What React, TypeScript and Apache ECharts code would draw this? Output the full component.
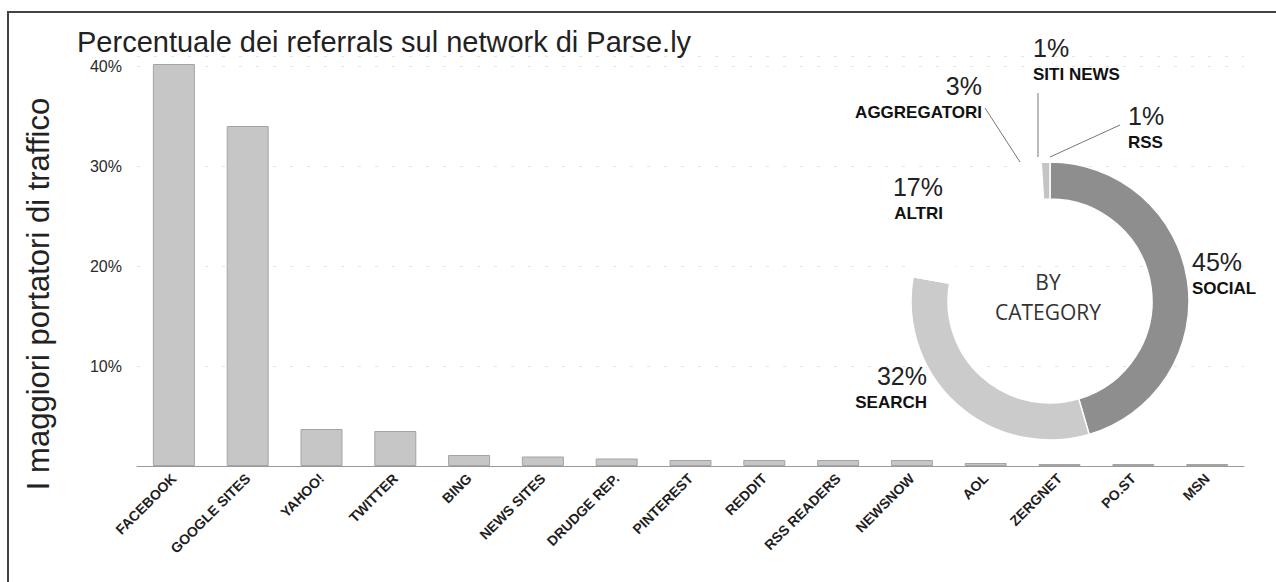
import React, { useEffect, useRef } from "react";
import * as echarts from "echarts";

const chartTitle = "Percentuale dei referrals sul network di Parse.ly";
const yAxisTitle = "I maggiori portatori di traffico";
const categories = [
  "FACEBOOK", "GOOGLE SITES", "YAHOO!", "TWITTER", "BING", "NEWS SITES", "DRUDGE REP.",
  "PINTEREST", "REDDIT", "RSS READERS", "NEWSNOW", "AOL", "ZERGNET", "PO.ST", "MSN",
];
const referralShare = [40.2, 34.0, 3.7, 3.5, 1.1, 0.95, 0.75, 0.6, 0.6, 0.6, 0.6, 0.3, 0.2, 0.2, 0.2];
const yTickValues = [10, 20, 30, 40];

const pieNames = ["SOCIAL", "SEARCH", "ALTRI", "AGGREGATORI", "SITI NEWS", "RSS"];
const pieValues = [45, 32, 17, 3, 1, 1];
const pieColors = ["#8e8e8e", "#cbcbcb", "#ffffff", "#ffffff", "#ffffff", "#c4c4c4"];
const pieCenterText = "BY\nCATEGORY";

// label placement per slice
const pieLabelPlacement: Record<string, any> = {
  SOCIAL: { x: 1192, y: 247, align: "left" },
  SEARCH: { x: 927, y: 361, align: "right" },
  ALTRI: { x: 943, y: 172, align: "right" },
  AGGREGATORI: { x: 982, y: 71, align: "right", line: [[1020, 162], [985, 108]] },
  "SITI NEWS": { x: 1033, y: 33, align: "left", line: [[1038, 157], [1038, 93]] },
  RSS: { x: 1128, y: 101, align: "left", line: [[1050, 157], [1120, 125]] },
};

const SANS = "'Liberation Sans', Arial, Helvetica, sans-serif";

export default function App() {
  const ref = useRef<HTMLDivElement>(null);
  useEffect(() => {
    document.body.style.margin = "0";
    const chart = echarts.init(ref.current!, null, { renderer: "svg" });
    const option: any = {
      animation: false,
      backgroundColor: "#ffffff",
      title: {
        text: chartTitle,
        left: 72,
        top: 22,
        textStyle: { fontFamily: SANS, fontSize: 29, fontWeight: "normal", color: "#222" },
      },
      grid: { left: 137, right: 32, top: 56, bottom: 116 },
      xAxis: {
        type: "category",
        data: categories,
        axisTick: { show: false },
        axisLine: { lineStyle: { color: "#9a9a9a", width: 1 } },
        axisLabel: {
          rotate: 45,
          interval: 0,
          margin: 10,
          fontFamily: SANS,
          fontWeight: "bold",
          fontSize: 14,
          color: "#1e1e1e",
        },
      },
      yAxis: {
        type: "value",
        min: 0,
        max: 41,
        interval: 10,
        axisLine: { show: false },
        axisTick: { show: false },
        splitLine: { show: true, lineStyle: { color: "#e4e4e4", type: [3, 14] } },
        axisLabel: {
          margin: 15,
          fontFamily: SANS,
          fontSize: 16,
          color: "#2a2a2a",
          formatter: (v: number) => (yTickValues.includes(v) ? v + "%" : ""),
        },
      },
      graphic: [
        {
          type: "polyline",
          shape: { points: [[8, 582], [8, 12], [1276, 12]] },
          style: { stroke: "#444", lineWidth: 2, fill: "none" },
          silent: true,
        },
        {
          type: "text",
          x: 38,
          y: 294,
          rotation: Math.PI / 2,
          style: {
            text: yAxisTitle,
            fontFamily: SANS,
            fontSize: 31,
            fill: "#222",
            align: "center",
            verticalAlign: "middle",
          },
        },
        {
          type: "text",
          x: 1048,
          y: 297,
          style: {
            text: pieCenterText,
            fontFamily: "'Open Sans', 'DejaVu Sans', sans-serif",
            fontSize: 21,
            lineHeight: 30,
            fill: "#333",
            align: "center",
            verticalAlign: "middle",
          },
        },
      ],
      series: [
        {
          type: "bar",
          data: referralShare,
          barWidth: 42,
          itemStyle: { color: "#c6c6c6", borderColor: "#a4a4a4", borderWidth: 1 },
        },
        {
          type: "pie",
          center: [1050, 301],
          radius: [102, 139],
          startAngle: 90,
          clockwise: true,
          avoidLabelOverlap: false,
          itemStyle: { borderColor: "#ffffff", borderWidth: 1.5 },
          labelLine: { show: false },
          label: {
            show: true,
            position: "outside",
            formatter: (p: any) => `{v|${p.value}%}\n{n|${p.name}}`,
            rich: {
              v: { fontFamily: SANS, fontSize: 25, lineHeight: 30, color: "#222" },
              n: { fontFamily: SANS, fontSize: 17, fontWeight: "bold", lineHeight: 22, color: "#111" },
            },
          },
          labelLayout: (p: any) => {
            const name = pieNames[p.dataIndex];
            const pl = pieLabelPlacement[name];
            const out: any = { x: pl.x, y: pl.y, align: pl.align, verticalAlign: "top" };
            if (pl.line) out.labelLinePoints = [pl.line[0], pl.line[1], pl.line[1]];
            return out;
          },
          data: pieNames.map((n, i) => ({
            name: n,
            value: pieValues[i],
            itemStyle: { color: pieColors[i] },
            labelLine: pieLabelPlacement[n].line
              ? { show: true, lineStyle: { color: "#777", width: 1 } }
              : { show: false },
          })),
        },
      ],
    };
    chart.setOption(option);
    return () => chart.dispose();
  }, []);
  return <div ref={ref} style={{ width: 1276, height: 582 }} />;
}
